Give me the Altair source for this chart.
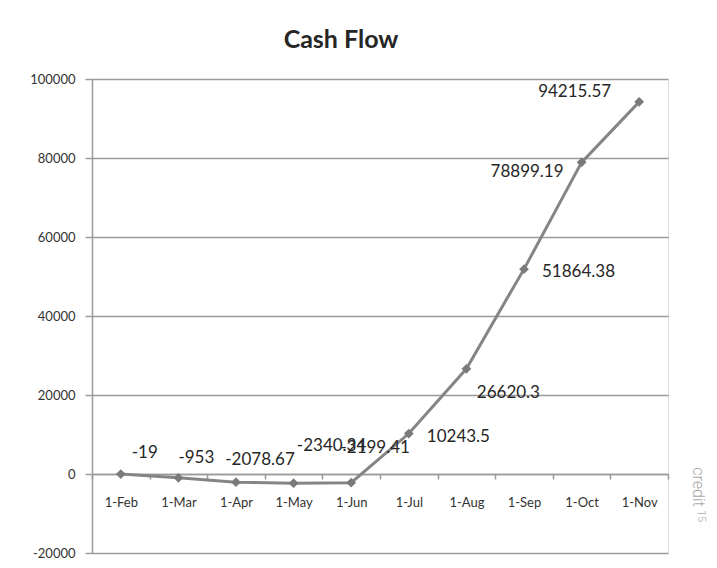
import altair as alt
import pandas as pd

months = ["1-Feb", "1-Mar", "1-Apr", "1-May", "1-Jun", "1-Jul", "1-Aug", "1-Sep", "1-Oct", "1-Nov"]
values = [-19, -953, -2078.67, -2340.34, -2199.41, 10243.5, 26620.3, 51864.38, 78899.19, 94215.57]
y_ticks = [-20000, 0, 20000, 40000, 60000, 80000, 100000]

# label placement (style only): (align, dx, dy)
label_style = [
    ("left", 11, -21), ("left", 0, -20), ("center", 24, -22), ("center", 38, -37),
    ("center", 24, -35), ("left", 18, 3), ("center", 42, 24), ("left", 18, 3),
    ("right", -18, 10), ("right", -28, -10),
]

df = pd.DataFrame({"month": months, "value": values, "label": [str(v) for v in values]})

FONT = "Lato"
GRID = "#9a9a9a"
LINE = "#858585"

x_enc = alt.X("month:N", sort=months, bandPosition=0.5,
              scale=alt.Scale(type="band", paddingInner=0, paddingOuter=0),
              axis=alt.Axis(title=None, orient="bottom", offset=-79, tickBand="extent",
                            domainColor=GRID, domainWidth=1.5, tickColor=GRID, tickSize=5,
                            tickWidth=1.5, labelPadding=17, labelFontSize=13, labelFont=FONT,
                            labelColor="#333333", grid=False, labelAngle=0))
y_enc = alt.Y("value:Q", scale=alt.Scale(domain=[-20000, 100000], nice=False, zero=False),
              axis=alt.Axis(title=None, values=y_ticks, grid=True, gridColor=GRID, gridWidth=1.5,
                            domainColor=GRID, domainWidth=1.5, tickColor=GRID, tickSize=7,
                            tickWidth=1.5, labelPadding=10, labelFontSize=13, labelFont=FONT,
                            labelColor="#333333", labelExpr="'' + datum.value"))

base = alt.Chart(df)
line = base.mark_line(color=LINE, strokeWidth=3).encode(x=x_enc, y=y_enc)
pts = base.mark_point(shape="diamond", filled=True, size=95, color="#7a7a7a", opacity=1).encode(
    x=alt.X("month:N", sort=months, bandPosition=0.5), y="value:Q")

layers = [line, pts]
for m, (al, dx, dy) in zip(months, label_style):
    layers.append(
        base.transform_filter(alt.datum.month == m)
        .mark_text(align=al, baseline="middle", dx=dx, dy=dy, fontSize=17, font=FONT, color="#262626")
        .encode(x=alt.X("month:N", sort=months, bandPosition=0.5), y="value:Q", text="label:N")
    )

credit_df = pd.DataFrame({"t": ["credit"], "s": ["15"]})
credit = alt.Chart(credit_df).mark_text(
    angle=90, fontSize=16, font="Roboto", fontWeight=300, color="#a8a8a8", align="center", baseline="middle"
).encode(x=alt.value(606), y=alt.value(408), text="t:N")
credit_sup = alt.Chart(credit_df).mark_text(
    angle=90, fontSize=11, font="Roboto", fontWeight=300, color="#a8a8a8", align="center", baseline="middle"
).encode(x=alt.value(609), y=alt.value(437), text="s:N")
layers += [credit, credit_sup]

chart = alt.layer(*layers).properties(
    width=576, height=474,
    title=alt.TitleParams("Cash Flow", fontSize=25, font=FONT, fontWeight="bold", color="#262626",
                          anchor="middle", dx=-39, offset=20),
    autosize=alt.AutoSizeParams(type="none"),
    padding={"left": 84, "top": 71, "right": 41, "bottom": 7},
).configure_view(stroke=None).configure(background="white")

chart.save("out.html", embed_options={"renderer": "svg", "actions": False})
